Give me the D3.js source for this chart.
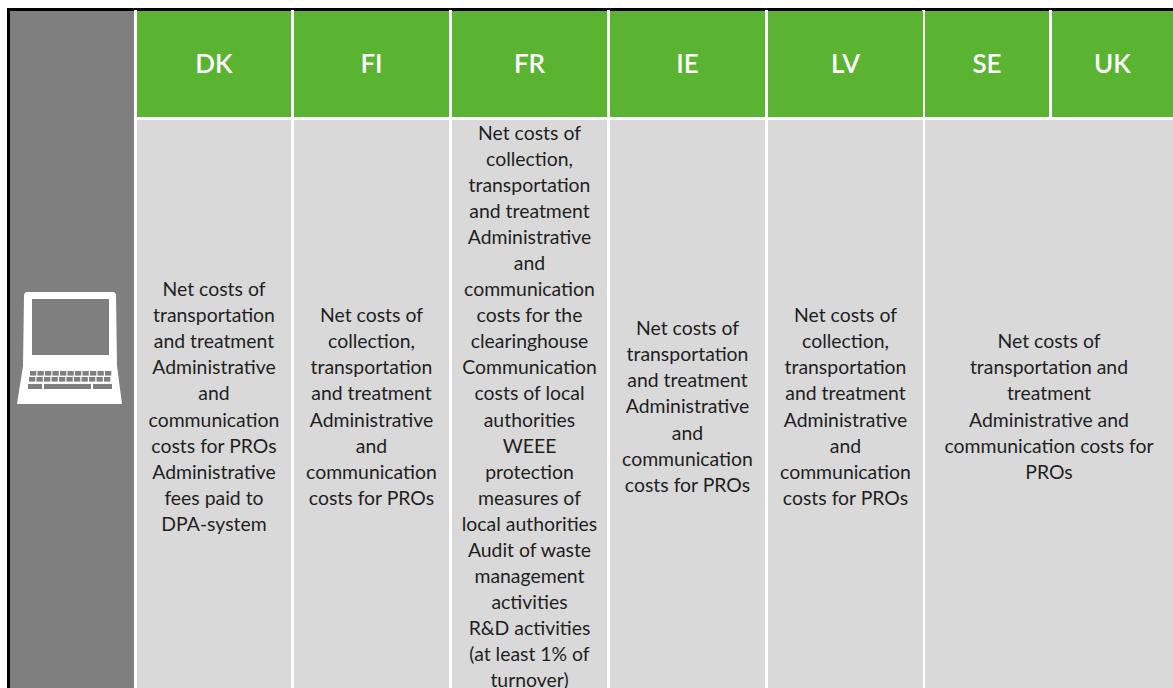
<!DOCTYPE html>
<html>
<head>
<meta charset="utf-8">
<script src="https://cdnjs.cloudflare.com/ajax/libs/d3/7.8.5/d3.min.js"></script>
<style>
html, body { margin: 0; padding: 0; background: #fff; overflow: hidden; }
svg { display: block; }
</style>
</head>
<body>
<script>
var countries = ["DK", "FI", "FR", "IE", "LV", "SE", "UK"];

var dkLines = ["Net costs of", "transportation", "and treatment", "Administrative", "and", "communication", "costs for PROs", "Administrative", "fees paid to", "DPA-system"];
var fiLines = ["Net costs of", "collection,", "transportation", "and treatment", "Administrative", "and", "communication", "costs for PROs"];
var frLines = ["Net costs of", "collection,", "transportation", "and treatment", "Administrative", "and", "communication", "costs for the", "clearinghouse", "Communication", "costs of local", "authorities", "WEEE", "protection", "measures of", "local authorities", "Audit of waste", "management", "activities", "R&D activities", "(at least 1% of", "turnover)"];
var ieLines = ["Net costs of", "transportation", "and treatment", "Administrative", "and", "communication", "costs for PROs"];
var lvLines = ["Net costs of", "collection,", "transportation", "and treatment", "Administrative", "and", "communication", "costs for PROs"];
var seUkLines = ["Net costs of", "transportation and", "treatment", "Administrative and", "communication costs for", "PROs"];

// body cells, SE and UK share one
var bodyCells = [
  {from: "DK", to: "DK", lines: dkLines},
  {from: "FI", to: "FI", lines: fiLines},
  {from: "FR", to: "FR", lines: frLines},
  {from: "IE", to: "IE", lines: ieLines},
  {from: "LV", to: "LV", lines: lvLines},
  {from: "SE", to: "UK", lines: seUkLines}
];

var width = 1173, height = 688;
var font = "Lato, 'Open Sans', sans-serif";

var colLeft = d3.scaleOrdinal().domain(countries).range([137, 294, 452, 610, 768, 925, 1052]);
var colRight = d3.scaleOrdinal().domain(countries).range([291, 449, 607, 765, 923, 1049, 1173]);

var svg = d3.select("body").append("svg")
            .attr("width", width)
            .attr("height", height);

var blur = svg.append("defs").append("filter").attr("id", "soft");
blur.append("feGaussianBlur").attr("stdDeviation", 0.5);

// black frame
svg.append("rect").attr("x", 7).attr("y", 8).attr("width", width - 7).attr("height", height - 8).attr("fill", "#000");
svg.append("rect").attr("x", 10).attr("y", 11).attr("width", width - 10).attr("height", height - 11).attr("fill", "#fff");

// grey side column
svg.append("rect").attr("x", 10).attr("y", 11).attr("width", 124).attr("height", height - 11).attr("fill", "#7f7f7f");

svg.selectAll("rect.head").data(countries).enter().append("rect")
   .attr("class", "head")
   .attr("x", function(d) { return colLeft(d); })
   .attr("y", 11)
   .attr("width", function(d) { return colRight(d) - colLeft(d); })
   .attr("height", 106)
   .attr("fill", "#5ab432");

// white dividers bite into the frame a little
svg.selectAll("rect.notch").data(countries).enter().append("rect")
   .attr("class", "notch")
   .attr("x", function(d) { return colLeft(d) - 3; })
   .attr("y", 10)
   .attr("width", 3)
   .attr("height", 1)
   .attr("fill", "#fff");

svg.selectAll("text.head").data(countries).enter().append("text")
   .attr("class", "head")
   .attr("x", function(d) { return (colLeft(d) + colRight(d)) / 2; })
   .attr("y", 73)
   .attr("text-anchor", "middle")
   .attr("font-family", font)
   .attr("font-size", "26px")
   .attr("font-weight", 600)
   .attr("fill", "#fff")
   .text(function(d) { return d; });

var lineHeight = 26.05;
var bodyMiddle = 407.5;

var cells = svg.selectAll("g.cell").data(bodyCells).enter().append("g").attr("class", "cell");

cells.append("rect")
     .attr("x", function(d) { return colLeft(d.from); })
     .attr("y", 120)
     .attr("width", function(d) { return colRight(d.to) - colLeft(d.from); })
     .attr("height", height - 120)
     .attr("fill", "#d9d9d9");

cells.each(function(d) {
  var cx = (colLeft(d.from) + colRight(d.to)) / 2;
  var top = bodyMiddle - d.lines.length * lineHeight / 2;
  d3.select(this).selectAll("text").data(d.lines).enter().append("text")
    .attr("x", cx)
    .attr("y", function(t, i) { return top + i * lineHeight + 19; })
    .attr("text-anchor", "middle")
    .attr("font-family", font)
    .attr("font-size", "19.4px")
    .attr("fill", "#1f1f1f")
    .text(function(t) { return t; });
});

// laptop icon
var icon = svg.append("g").attr("filter", "url(#soft)");
icon.append("path")
    .attr("d", "M27,292 L113,292 Q116,292 116,296 L117,366 L122,404 L17,404 L23,366 L24,296 Q24,292 27,292 Z")
    .attr("fill", "#fff");
icon.append("rect").attr("x", 32).attr("y", 299).attr("width", 77).attr("height", 56).attr("fill", "#7f7f7f");

var keyRows = [0, 1];
var keyCols = d3.range(11);
keyRows.forEach(function(r) {
  icon.selectAll("rect.k" + r).data(keyCols).enter().append("rect")
      .attr("class", "k" + r)
      .attr("x", function(c) { return 30 - r + c * 7.5; })
      .attr("y", 371 + r * 6)
      .attr("width", 6.3)
      .attr("height", 4.6)
      .attr("fill", "#7f7f7f");
});
icon.append("rect").attr("x", 28).attr("y", 384).attr("width", 14).attr("height", 5).attr("fill", "#7f7f7f");
icon.append("rect").attr("x", 44).attr("y", 384).attr("width", 47).attr("height", 5).attr("fill", "#7f7f7f");
icon.append("rect").attr("x", 93).attr("y", 384).attr("width", 19).attr("height", 5).attr("fill", "#7f7f7f");
</script>
</body>
</html>
